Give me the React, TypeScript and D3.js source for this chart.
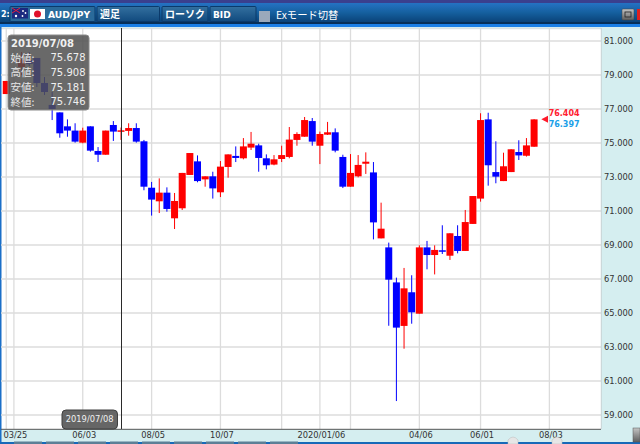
import React from "react";
import * as d3 from "d3";

const W = 640, H = 444;
const weeks = [-15,-13,-12,-11,-10,-9,-8,-7,-6,-5,-4,-3,-2,-1,0,1,2,3,4,5,6,7,8,9,10,11,12,13,14,15,16,17,18,19,20,21,22,23,24,25,26,27,28,29,30,31,32,33,34,35,36,37,38,39,40,41,42,43,44,45,46,47,48,49,50,51,52,53,54];
const opens = [77.88,79.47,79.88,80.0,78.53,77.24,76.80,75.98,75.73,75.02,75.98,74.53,74.31,76.06,75.678,75.71,75.88,75.10,72.37,71.57,72.08,70.57,71.16,73.12,73.92,72.86,73.04,72.10,73.59,74.24,74.10,74.73,74.86,74.10,73.73,74.06,74.18,75.18,75.37,76.29,74.84,75.49,75.63,74.18,72.43,73.04,73.78,73.27,69.39,68.86,66.80,64.24,66.22,64.96,68.86,68.41,68.69,68.37,69.53,68.65,70.24,71.73,76.39,73.29,72.76,73.29,74.47,74.25,74.78];
const highs = [78.65,80.35,80.35,80.0,78.88,78.0,76.80,76.39,76.16,75.90,75.98,74.76,75.73,76.29,75.908,76.16,76.16,75.18,72.71,72.92,72.39,72.06,73.24,74.41,74.27,73.04,73.31,73.94,74.33,74.80,75.29,75.65,74.96,74.33,74.29,74.84,75.94,75.63,76.53,76.47,75.67,76.24,75.86,74.31,74.35,74.29,74.45,73.88,71.49,69.14,67.08,67.65,67.22,68.98,69.24,68.98,70.16,69.69,70.16,71.06,71.88,76.75,76.78,75.10,74.43,74.63,75.16,75.29,76.40];
const lows = [77.88,79.0,79.53,78.29,77.82,76.35,75.31,75.37,75.02,74.98,74.49,73.88,74.31,75.12,75.181,75.43,75.02,72.22,70.73,70.88,70.96,69.94,71.06,73.12,72.69,72.43,71.73,71.82,72.96,73.88,74.04,74.59,73.31,73.45,73.69,73.88,74.10,74.84,75.37,74.84,73.76,75.47,74.45,72.35,72.43,72.98,73.18,69.33,69.39,64.25,59.82,62.90,64.37,64.96,67.57,67.27,68.47,68.12,68.51,68.65,70.24,71.55,72.49,72.63,72.76,73.29,74.00,74.20,74.78];
const closes = [78.65,79.88,79.65,78.53,78.0,77.0,75.57,75.73,75.08,75.73,74.55,74.31,75.73,75.67,75.746,75.88,75.08,72.43,71.67,72.08,71.12,71.59,73.24,74.41,72.76,73.04,72.33,73.61,74.33,74.12,74.80,74.96,74.12,73.69,74.04,74.29,75.20,75.53,76.35,75.08,75.53,75.63,74.55,72.43,73.24,73.71,73.90,70.33,69.96,66.96,64.14,66.45,65.04,68.86,68.41,68.71,68.61,69.69,68.65,70.35,71.88,76.35,73.69,73.02,73.63,74.63,74.27,74.86,76.39];

const priceTicks = [81,79,77,75,73,71,69,67,65,63,61,59];
const labelWeeks = [-14,-5,4,13,26,39,47,56];
const dateLabels = ["03/25","06/03","08/05","10/07","2020/01/06","04/06","06/01","08/03"];
const extraGridWeeks = [-15,21,30];
const tooltipNames = ["始値:","高値:","安値:","終値:"];
const tooltipValues = ["75.678","75.908","75.181","75.746"];
const selectedDate = "2019/07/08";
const askLabel = "76.404";
const bidLabel = "76.397";

const mono = "'DejaVu Sans', sans-serif";
const cjk = "'Noto Sans CJK JP', 'DejaVu Sans', sans-serif";

export default function App() {
  const y = d3.scaleLinear().domain([59, 81]).range([415, 41]);
  const x = d3.scaleLinear().domain([0, 56]).range([121, 549.4]);
  const top = 28, bottom = 429, right = 601, bodyW = 7;
  const toolbarBtn = (bx: number, bw: number) => (
    <rect x={bx} y={6.5} width={bw} height={15} fill="url(#btn)" stroke="#0b3a6b" strokeWidth={1} rx={1} />
  );
  return (
    <svg width={W} height={H} viewBox={`0 0 ${W} ${H}`} style={{ position: "absolute", left: 0, top: 0, display: "block" }}>
      <defs>
        <linearGradient id="bar" x1="0" y1="0" x2="0" y2="1">
          <stop offset="0" stopColor="#2572c4" />
          <stop offset="0.5" stopColor="#15609f" />
          <stop offset="1" stopColor="#0a4379" />
        </linearGradient>
        <linearGradient id="btn" x1="0" y1="0" x2="0" y2="1">
          <stop offset="0" stopColor="#33709f" />
          <stop offset="1" stopColor="#114a7e" />
        </linearGradient>
        <linearGradient id="win" x1="0" y1="0" x2="0" y2="1">
          <stop offset="0" stopColor="#c4c4c4" />
          <stop offset="1" stopColor="#5e5e5e" />
        </linearGradient>
      </defs>
      <rect width={W} height={H} fill="#d5eef0" />
      <rect x={1} y={top} width={right - 1} height={bottom - top} fill="#ffffff" />
      <line x1={1} x2={right} y1={top + 0.5} y2={top + 0.5} stroke="#d8e0e2" strokeWidth={1.5} />
      <rect x={0} y={24} width={1.5} height={420} fill="#1a6fc8" />
      {priceTicks.map((p) => (
        <line key={p} x1={1} x2={right} y1={y(p)} y2={y(p)} stroke="#dcdcdc" strokeWidth={1.3} />
      ))}
      {[...labelWeeks, ...extraGridWeeks].map((w) => (
        <line key={w} x1={x(w)} x2={x(w)} y1={top} y2={bottom} stroke="#dcdcdc" strokeWidth={1.3} />
      ))}
      <line x1={right + 0.3} x2={right + 0.3} y1={top} y2={bottom} stroke="#c9d3d5" strokeWidth={1} />
      {weeks.map((w, i) => {
        const up = closes[i] >= opens[i];
        const color = up ? "#ff0000" : "#0000ff";
        const y0 = y(Math.max(opens[i], closes[i]));
        const y1 = y(Math.min(opens[i], closes[i]));
        return (
          <g key={w}>
            <line x1={x(w)} x2={x(w)} y1={y(highs[i])} y2={y(lows[i])} stroke={color} strokeWidth={1} />
            <rect x={x(w) - bodyW / 2} y={y0} width={bodyW} height={Math.max(y1 - y0, 1.5)} fill={color} />
          </g>
        );
      })}
      <line x1={x(0) + 0.5} x2={x(0) + 0.5} y1={top} y2={bottom} stroke="#2a2a2a" strokeWidth={1} />
      <line x1={1} x2={right} y1={bottom + 0.3} y2={bottom + 0.3} stroke="#555555" strokeWidth={1} />
      <rect x={8} y={35} width={81} height={75} rx={3} fill="#505050" fillOpacity={0.86} stroke="#8a8a8a" strokeWidth={1} />
      <text x={11} y={46.5} fontFamily={mono} fontWeight="bold" fontSize={10} fill="#f0f0f0">{selectedDate}</text>
      {tooltipNames.map((n, i) => (
        <text key={n} x={10.5} y={61.5 + i * 14.7} fontFamily={cjk} fontSize={10.5} fill="#e8e8e8">{n}</text>
      ))}
      {tooltipValues.map((v, i) => (
        <text key={i} x={85.5} y={61.3 + i * 14.7} textAnchor="end" fontFamily={mono} fontSize={10} fill="#f0f0f0">{v}</text>
      ))}
      <rect x={62} y={410} width={55.5} height={19} rx={4} fill="#666666" stroke="#3f3f3f" strokeWidth={1} />
      <text x={89.7} y={422} textAnchor="middle" fontFamily={mono} fontSize={8.3} fill="#f0f0f0">{selectedDate}</text>
      <path d={d3.line()([[541.3, y(76.4) ], [548, y(76.4) - 3.5], [548, y(76.4) + 3.5]]) + "Z"} fill="#ff1a2a" />
      <text x={548.7} y={116} fontFamily={mono} fontWeight="bold" fontSize={8} fill="#ff2030">{askLabel}</text>
      <text x={548.7} y={127.3} fontFamily={mono} fontWeight="bold" fontSize={8} fill="#1c9fe8">{bidLabel}</text>
      {priceTicks.map((p) => (
        <text key={p} x={604} y={y(p) + 3} fontFamily={mono} fontSize={8.3} fill="#333333">{p.toFixed(3)}</text>
      ))}
      {labelWeeks.map((w, i) => (
        <text key={w} x={x(w) + 1.5} y={438} textAnchor="middle" fontFamily={mono} fontSize={8.3} fill="#333333">{dateLabels[i]}</text>
      ))}
      <rect x={0} y={442} width={W} height={2} fill="#1769b8" />
      {[[14, 28], [46, 28], [78, 28], [110, 28], [142, 28], [174, 28], [206, 28], [238, 28], [270, 28]].map(([a, b]) => (
        <rect key={a} x={a} y={441.5} width={b} height={2.5} fill="#5d7f96" />
      ))}
      <path d="M508,444 V440 Q513,434 518,440 V444 Z" fill="#e6e6e6" stroke="#bbbbbb" strokeWidth={0.5} />
      <path d="M552,444 V440 Q557,434 562,440 V444 Z" fill="#e6e6e6" stroke="#bbbbbb" strokeWidth={0.5} />
      <rect x={633} y={428} width={7} height={14} fill="url(#win)" stroke="#555" strokeWidth={0.5} />
      <rect x={0} y={0} width={W} height={3} fill="#3a3f8e" />
      <rect x={0} y={3} width={W} height={19} fill="url(#bar)" />
      <rect x={0} y={22} width={W} height={2} fill="#062f58" />
      <rect x={0} y={24} width={W} height={3} fill="#1b7fe6" />
      <text x={1} y={17} fontFamily={mono} fontWeight="bold" fontSize={8} fill="#ffffff">2:</text>
      <rect x={10} y={6.5} width={85} height={15} fill="#2a6a9a" stroke="#0b3a6b" rx={1} />
      <rect x={12} y={8} width={16} height={10.5} fill="#1b2a80" />
      <path d="M12,8 L20,13 M20,8 L12,13" stroke="#e02040" strokeWidth={1} />
      <circle cx={23} cy={11} r={0.9} fill="#fff" />
      <circle cx={25.5} cy={13} r={0.9} fill="#fff" />
      <circle cx={22.5} cy={16} r={0.9} fill="#fff" />
      <circle cx={16} cy={16} r={1.2} fill="#fff" />
      <rect x={30} y={9} width={15} height={10} fill="#ffffff" />
      <circle cx={37.5} cy={14} r={3.5} fill="#e0102a" />
      <text x={48} y={17.5} fontFamily={mono} fontWeight="bold" fontSize={9.2} fill="#ffffff">AUD/JPY</text>
      {toolbarBtn(97, 62.5)}
      {toolbarBtn(162, 46)}
      {toolbarBtn(210, 46)}
      <text x={100} y={18} fontFamily={cjk} fontWeight="bold" fontSize={10} fill="#ffffff">週足</text>
      <text x={165} y={18} fontFamily={cjk} fontWeight="bold" fontSize={10} fill="#ffffff">ローソク</text>
      <text x={213} y={18} fontFamily={mono} fontWeight="bold" fontSize={9} fill="#ffffff">BID</text>
      <rect x={259} y={11} width={11} height={11} fill="#9aa9bb" />
      <text x={276} y={19} fontFamily={cjk} fontSize={10.3} fill="#ffffff">Exモード切替</text>
      <rect x={622} y={9} width={12} height={11} rx={1} fill="url(#win)" stroke="#444" strokeWidth={0.5} />
      <rect x={625} y={12} width={6} height={5} fill="none" stroke="#222" strokeWidth={0.8} />
      <rect x={637} y={9} width={3} height={11} fill="#e02020" />
    </svg>
  );
}
